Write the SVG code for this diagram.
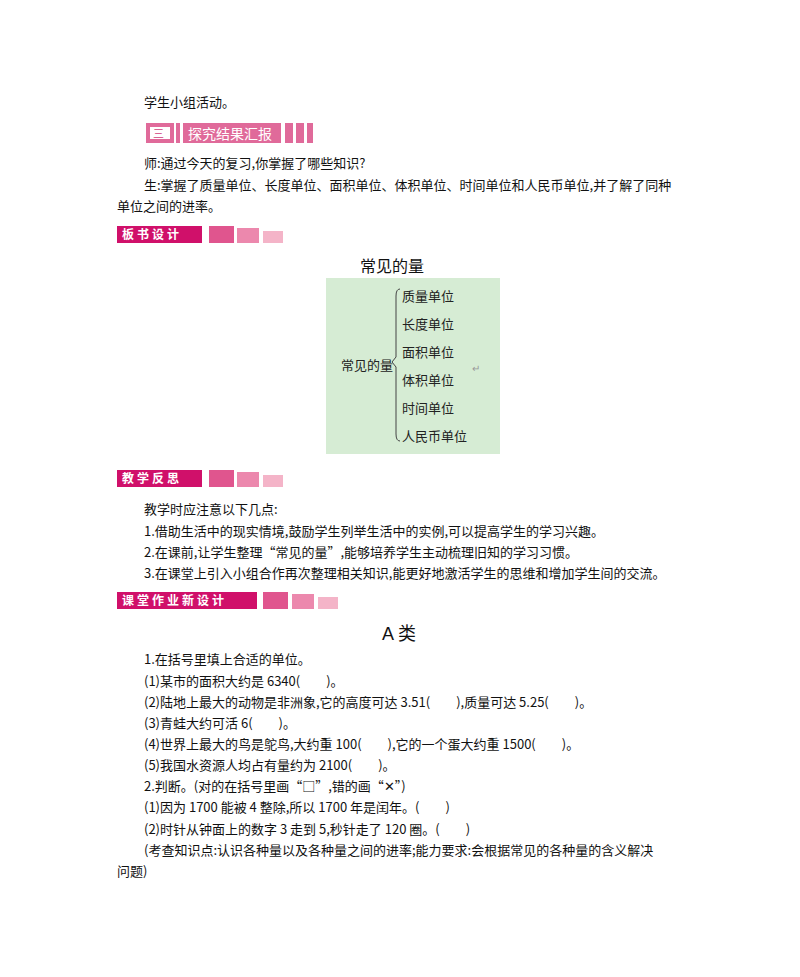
<svg xmlns="http://www.w3.org/2000/svg" width="800" height="977" viewBox="0 0 800 977">
<style>
.t{font-family:"Noto Sans CJK SC","Liberation Serif",serif;font-size:13px;fill:#111}
.b{font-family:"Noto Sans CJK SC",sans-serif;font-size:12px;fill:#fff;font-weight:bold;letter-spacing:3px}
.s{font-family:"Noto Sans CJK SC",sans-serif;font-size:13px;fill:#222}
.h{font-family:"Liberation Sans","Noto Sans CJK SC",sans-serif;font-size:16px;fill:#111}
</style>
<rect width="800" height="977" fill="#fff"/>
<text class="t" x="144" y="107">学生小组活动。</text>
<g id="banner3">
<rect x="146" y="123" width="28" height="20" fill="#e06a9a"/>
<rect x="150" y="127" width="20" height="12" fill="#fff"/>
<text x="153" y="138" font-family="Noto Sans CJK SC,sans-serif" font-size="11" fill="#d04080">三</text>
<rect x="176" y="123" width="4" height="20" fill="#e06a9a"/>
<rect x="183" y="123" width="98" height="20" fill="#e06a9a"/>
<text x="188" y="139" font-family="Noto Sans CJK SC,sans-serif" font-size="14" fill="#fff">探究结果汇报</text>
<rect x="285" y="123" width="8" height="20" fill="#e06a9a"/>
<rect x="296" y="123" width="8" height="20" fill="#e06a9a"/>
<rect x="307" y="123" width="6" height="20" fill="#e06a9a"/>
</g>
<text class="t" x="144" y="168">师:通过今天的复习,你掌握了哪些知识?</text>
<text class="t" x="144" y="190">生:掌握了质量单位、长度单位、面积单位、体积单位、时间单位和人民币单位,并了解了同种</text>
<text class="t" x="117" y="211">单位之间的进率。</text>
<g id="banner1">
<rect x="117" y="226" width="85" height="17" fill="#d0106a"/>
<text class="b" x="122" y="239">板书设计</text>
<rect x="209" y="226" width="25" height="17" fill="#e0558e"/>
<rect x="237" y="228" width="22" height="15" fill="#ec88ad"/>
<rect x="263" y="231" width="20" height="12" fill="#f4b4c8"/>
</g>
<text class="h" x="360" y="272">常见的量</text>
<g id="board">
<rect x="326" y="278" width="174" height="176" fill="#d6ecd4"/>
<text class="s" x="341" y="370">常见的量</text>
<path d="M400 289 Q396 289 396 296 L396 357 L392 362 L396 367 L396 434 Q396 441 400 441" fill="none" stroke="#444" stroke-width="1"/>
<text class="s" x="402" y="301">质量单位</text>
<text class="s" x="402" y="329">长度单位</text>
<text class="s" x="402" y="357">面积单位</text>
<text class="s" x="402" y="385">体积单位</text>
<text class="s" x="402" y="413">时间单位</text>
<text class="s" x="402" y="441">人民币单位</text>
<text x="472" y="372" font-family="Liberation Sans,sans-serif" font-size="10" fill="#999">↵</text>
</g>
<g id="banner2">
<rect x="117" y="470" width="85" height="17" fill="#d0106a"/>
<text class="b" x="122" y="483">教学反思</text>
<rect x="209" y="470" width="25" height="17" fill="#e0558e"/>
<rect x="237" y="472" width="22" height="15" fill="#ec88ad"/>
<rect x="263" y="475" width="20" height="12" fill="#f4b4c8"/>
</g>
<text class="t" x="144" y="514">教学时应注意以下几点:</text>
<text class="t" x="144" y="536">1.借助生活中的现实情境,鼓励学生列举生活中的实例,可以提高学生的学习兴趣。</text>
<text class="t" x="144" y="557">2.在课前,让学生整理“常见的量”,能够培养学生主动梳理旧知的学习习惯。</text>
<text class="t" x="144" y="578">3.在课堂上引入小组合作再次整理相关知识,能更好地激活学生的思维和增加学生间的交流。</text>
<g id="banner4">
<rect x="117" y="592" width="140" height="17" fill="#d0106a"/>
<text class="b" x="122" y="605">课堂作业新设计</text>
<rect x="263" y="592" width="25" height="17" fill="#e0558e"/>
<rect x="292" y="594" width="22" height="15" fill="#ec88ad"/>
<rect x="318" y="597" width="20" height="12" fill="#f4b4c8"/>
</g>
<text x="382" y="640" font-family="Liberation Sans,Noto Sans CJK SC,sans-serif" font-size="18" fill="#111">A 类</text>
<text class="t" x="144" y="664">1.在括号里填上合适的单位。</text>
<text class="t" x="144" y="686">(1)某市的面积大约是 6340(　　)。</text>
<text class="t" x="144" y="707">(2)陆地上最大的动物是非洲象,它的高度可达 3.51(　　),质量可达 5.25(　　)。</text>
<text class="t" x="144" y="728">(3)青蛙大约可活 6(　　)。</text>
<text class="t" x="144" y="749">(4)世界上最大的鸟是鸵鸟,大约重 100(　　),它的一个蛋大约重 1500(　　)。</text>
<text class="t" x="144" y="770">(5)我国水资源人均占有量约为 2100(　　)。</text>
<text class="t" x="144" y="791">2.判断。(对的在括号里画“□”,错的画“✕”)</text>
<text class="t" x="144" y="812">(1)因为 1700 能被 4 整除,所以 1700 年是闰年。(　　)</text>
<text class="t" x="144" y="834">(2)时针从钟面上的数字 3 走到 5,秒针走了 120 圈。(　　)</text>
<text class="t" x="144" y="855">(考查知识点:认识各种量以及各种量之间的进率;能力要求:会根据常见的各种量的含义解决</text>
<text class="t" x="117" y="876">问题)</text>
</svg>
